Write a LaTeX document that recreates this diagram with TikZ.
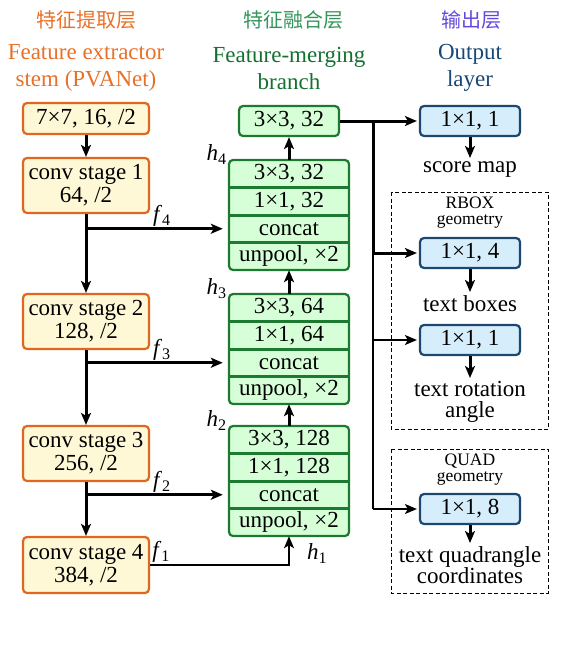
\documentclass[tikz,border=0pt]{standalone}
\usepackage{fontspec}
\setmainfont{Liberation Serif}
\newfontfamily\cjk{Noto Sans CJK SC}
\usepackage{tikz}
\usetikzlibrary{arrows.meta}

\definecolor{stemline}{RGB}{224,104,30}
\definecolor{stemfill}{RGB}{255,248,214}
\definecolor{stemtitle}{RGB}{232,112,40}
\definecolor{mergeline}{RGB}{28,122,48}
\definecolor{mergefill}{RGB}{214,255,216}
\definecolor{mergetitle}{RGB}{20,112,48}
\definecolor{mergecn}{RGB}{50,150,90}
\definecolor{outborder}{RGB}{28,72,112}
\definecolor{outfill}{RGB}{214,238,252}
\definecolor{outtitle}{RGB}{24,72,120}
\definecolor{outcn}{RGB}{100,72,222}

\newcommand{\idx}[2]{\textit{#1}\textsubscript{#2}}

\tikzset{
  every node/.style={font=\fontsize{23}{23}\selectfont},
  cntitle/.style={font=\fontsize{20}{20}\cjk},
  entitle/.style={align=center, font=\fontsize{23}{27}\selectfont},
  stem/.style={draw=stemline, fill=stemfill, line width=2.2pt, rounded corners=4pt,
    minimum width=126pt, align=center, inner sep=0pt},
  merge/.style={draw=mergeline, fill=mergefill, line width=2.2pt, rounded corners=4pt,
    minimum width=100pt, minimum height=30pt, inner sep=0pt},
  mergeframe/.style={draw=mergeline, fill=mergefill, line width=2.2pt, rounded corners=4pt},
  mergesep/.style={draw=mergeline, line width=2.6pt},
  row/.style={minimum width=120pt, minimum height=27.5pt, inner sep=0pt},
  outbox/.style={draw=outborder, fill=outfill, line width=2.2pt, rounded corners=4pt,
    minimum width=100pt, minimum height=30pt, inner sep=0pt},
  outtxt/.style={anchor=north, align=center, inner sep=3pt, font=\fontsize{23}{21.5}\selectfont},
  geom/.style={align=center, inner sep=0pt, font=\fontsize{17.5}{16}\selectfont},
  dashbox/.style={draw, line width=1pt, dash pattern=on 4pt off 2.5pt},
  lab/.style={inner sep=2pt},
  arr/.style={line width=3pt, -{Stealth[length=12pt,width=10pt,inset=3pt]}},
  thinarr/.style={line width=2pt, -{Stealth[length=12pt,width=10pt,inset=3pt]}},
}

\begin{document}
\begin{tikzpicture}[x=1pt, y=-1pt]
\useasboundingbox (0,0) rectangle (562,653);

% titles
\node[cntitle, text=stemtitle] (stemcn) at (86,20) {特征提取层};
\node[entitle, text=stemtitle] (stemen) at (86,68) {Feature extractor\\stem (PVANet)};
\node[cntitle, text=mergecn] (mergecn) at (293,20) {特征融合层};
\node[entitle, text=mergetitle] (mergeen) at (289,68) {Feature-merging\\branch};
\node[cntitle, text=outcn] (outcn) at (471,20) {输出层};
\node[entitle, text=outtitle] (outen) at (470,68) {Output\\layer};

% feature extractor stem
\node[stem, minimum height=31pt] (k7) at (86,118.5) {7×7, 16, /2};
\node[stem, minimum height=55pt] (s1) at (86,185.5) {conv stage 1\\64, /2};
\node[stem, minimum height=55pt] (s2) at (86,321.5) {conv stage 2\\128, /2};
\node[stem, minimum height=55pt] (s3) at (86,453.5) {conv stage 3\\256, /2};
\node[stem, minimum height=56pt] (s4) at (86,565) {conv stage 4\\384, /2};

% feature-merging branch
\node[merge] (m0) at (289,121) {3×3, 32};

\draw[mergeframe] (229,160) rectangle (349,270);
\node[row] (r4a) at (289,173.75) {3×3, 32};
\node[row] (r4b) at (289,201.25) {1×1, 32};
\node[row] (r4c) at (289,228.75) {concat};
\node[row] (r4d) at (289,256.25) {unpool, ×2};
\draw[mergesep] (r4a.south west) -- (r4a.south east);
\draw[mergesep] (r4b.south west) -- (r4b.south east);
\draw[mergesep] (r4c.south west) -- (r4c.south east);

\draw[mergeframe] (229,294) rectangle (349,404);
\node[row] (r3a) at (289,307.75) {3×3, 64};
\node[row] (r3b) at (289,335.25) {1×1, 64};
\node[row] (r3c) at (289,362.75) {concat};
\node[row] (r3d) at (289,390.25) {unpool, ×2};
\draw[mergesep] (r3a.south west) -- (r3a.south east);
\draw[mergesep] (r3b.south west) -- (r3b.south east);
\draw[mergesep] (r3c.south west) -- (r3c.south east);

\draw[mergeframe] (229,426) rectangle (349,536);
\node[row] (r2a) at (289,439.75) {3×3, 128};
\node[row] (r2b) at (289,467.25) {1×1, 128};
\node[row] (r2c) at (289,494.75) {concat};
\node[row] (r2d) at (289,522.25) {unpool, ×2};
\draw[mergesep] (r2a.south west) -- (r2a.south east);
\draw[mergesep] (r2b.south west) -- (r2b.south east);
\draw[mergesep] (r2c.south west) -- (r2c.south east);

\node[lab, anchor=east] (h4) at ([yshift=5pt]r4a.north west) {\idx{h}{4}};
\node[lab, anchor=east] (h3) at ([yshift=5pt]r3a.north west) {\idx{h}{3}};
\node[lab, anchor=east] (h2) at ([yshift=5pt]r2a.north west) {\idx{h}{2}};
\node[lab, anchor=west] (h1) at ([xshift=16pt, yshift=-17pt]r2d.south) {\idx{h}{1}};

% stem connections
\draw[arr] (k7) -- (s1);
\draw[arr] (s1) -- (s2);
\draw[arr] (s2) -- (s3);
\draw[arr] (s3) -- (s4);
\draw[arr, shorten >=6pt] (s1.south |- r4c.west) -- (r4c.west);
\draw[arr, shorten >=6pt] (s2.south |- r3c.west) -- (r3c.west);
\draw[arr, shorten >=6pt] (s3.south |- r2c.west) -- (r2c.west);
\draw[thinarr] (s4.east) -| (r2d.south);
\node[lab, anchor=south] (f4) at ([xshift=76pt]s1.south |- r4c.west) {\idx{f}{4}};
\node[lab, anchor=south] (f3) at ([xshift=76pt]s2.south |- r3c.west) {\idx{f}{3}};
\node[lab, anchor=south] (f2) at ([xshift=76pt]s3.south |- r2c.west) {\idx{f}{2}};
\node[lab, anchor=south west] (f1) at (s4.east) {\idx{f}{1}};

% merging connections
\draw[arr] (r2a) -- (r3d);
\draw[arr] (r3a) -- (r4d);
\draw[arr] (r4a) -- (m0);

% output layer
\draw[dashbox] (391,192) rectangle (548,429);
\draw[dashbox] (391,449) rectangle (548,593);

\node[outbox] (o1) at (470,121) {1×1, 1};
\node[outtxt] (t1) at (470,158) {score map};
\node[geom] (rbox) at (470,213) {RBOX\\geometry};
\node[outbox] (o2) at (470,253) {1×1, 4};
\node[outtxt] (t2) at (470,292) {text boxes};
\node[outbox] (o3) at (470,340) {1×1, 1};
\node[outtxt] (t3) at (470,378) {text rotation\\angle};
\node[geom] (quad) at (470,470) {QUAD\\geometry};
\node[outbox] (o4) at (470,509) {1×1, 8};
\node[outtxt] (t4) at (470,543) {text quadrangle\\coordinates};

\draw[arr] (o1) -- (t1);
\draw[arr] (o2) -- (t2);
\draw[arr] (o3) -- (t3);
\draw[arr] (o4) -- (t4);

\coordinate (bus) at (373,121);
\draw[arr, shorten >=2pt] (m0.east) -- (o1.west);
\draw[line width=3pt] (bus) -- (bus |- o2.west);
\draw[arr, shorten >=2pt] (bus |- o2.west) -- (o2.west);
\draw[line width=2pt] (bus |- o2.west) -- (bus |- o4.west);
\draw[thinarr, shorten >=2pt] (bus |- o3.west) -- (o3.west);
\draw[thinarr, shorten >=2pt] (bus |- o4.west) -- (o4.west);
\end{tikzpicture}
\end{document}
